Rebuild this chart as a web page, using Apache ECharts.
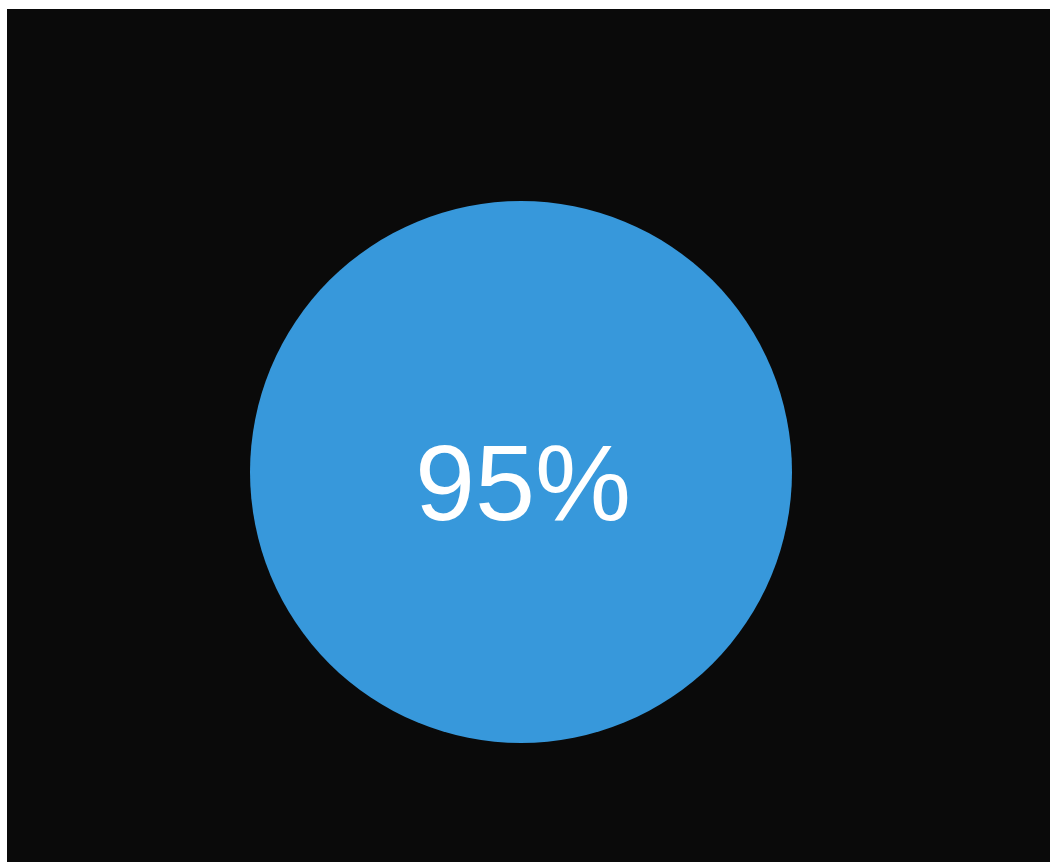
<!DOCTYPE html>
<html>
<head>
<meta charset="utf-8">
<script src="https://cdn.jsdelivr.net/npm/echarts@6/dist/echarts.min.js"></script>
<style>
  html, body { margin: 0; padding: 0; background: #ffffff; }
  #chart { position: absolute; left: 7px; top: 9px; width: 1043px; height: 853px; background: #0a0a0a; }
</style>
</head>
<body>
<div id="chart"></div>
<script>
const names = ['progress']
const values = [95]

const chart = echarts.init(document.getElementById('chart'))
chart.setOption({
  backgroundColor: '#0a0a0a',
  animation: false,
  series: [{
    type: 'pie',
    center: [514, 463],
    radius: [0, 271],
    silent: true,
    startAngle: 90,
    data: names.map((name, i) => ({ name, value: values[i] })),
    itemStyle: { color: '#3798db' },
    label: {
      show: true,
      position: 'center',
      formatter: '{c}%',
      color: '#ffffff',
      fontFamily: 'Liberation Sans, Arial, sans-serif',
      fontSize: 108,
      offset: [2, 18]
    },
    labelLine: { show: false }
  }]
})
</script>
</body>
</html>
